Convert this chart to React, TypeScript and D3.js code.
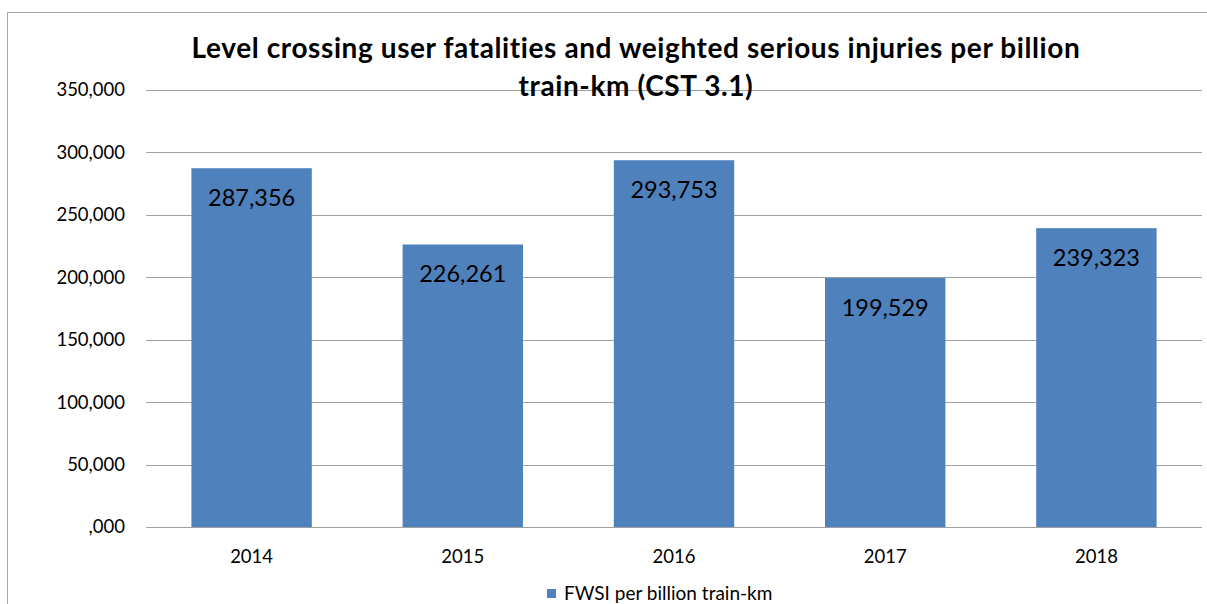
import React, { useEffect, useRef } from "react";
import * as d3 from "d3";

const years = ["2014", "2015", "2016", "2017", "2018"];
const fwsi = [287.356, 226.261, 293.753, 199.529, 239.323];
const yTicks = [0, 50, 100, 150, 200, 250, 300, 350];
const seriesName = "FWSI per billion train-km";
const titleLines = [
  "Level crossing user fatalities and weighted serious injuries per billion",
  "train-km (CST 3.1)",
];

const W = 1207;
const H = 604;
const FONT = "Lato, 'Open Sans', sans-serif";

// european style: 287,356 and ,000 for zero
const fmt = (v: number) => {
  const s = d3.format(".3f")(v).replace(".", ",");
  return s.startsWith("0,") ? s.slice(1) : s;
};

const App = () => {
  const svgRef = useRef<SVGSVGElement | null>(null);

  useEffect(() => {
    const svg = d3.select(svgRef.current);
    svg.selectAll("*").remove();

    const left = 146;
    const right = 1202;
    const top = 90;
    const bottom = 527;

    const x = d3.scaleBand().domain(years).range([left, right]).paddingInner(0.43).paddingOuter(0.215);
    const y = d3.scaleLinear().domain([0, 350]).range([bottom, top]);

    // chart frame
    svg.append("path")
      .attr("d", `M7.5,${H} V12.5 H${W}`)
      .attr("fill", "none")
      .attr("stroke", "#a6a6a6")
      .attr("stroke-width", 1);

    // gridlines
    svg.append("g")
      .selectAll("line")
      .data(yTicks)
      .enter()
      .append("line")
      .attr("x1", left)
      .attr("x2", right)
      .attr("y1", (d) => Math.round(y(d)) + 0.5)
      .attr("y2", (d) => Math.round(y(d)) + 0.5)
      .attr("stroke", "#a0a0a0")
      .attr("stroke-width", 1);

    // y labels
    svg.append("g")
      .selectAll("text")
      .data(yTicks)
      .enter()
      .append("text")
      .attr("x", 125)
      .attr("y", (d) => y(d))
      .attr("dy", "0.35em")
      .attr("text-anchor", "end")
      .attr("font-family", FONT)
      .attr("font-size", 18.5)
      .text((d) => fmt(d));

    // bars
    svg.append("g")
      .selectAll("rect")
      .data(fwsi)
      .enter()
      .append("rect")
      .attr("x", (d, i) => x(years[i])!)
      .attr("y", (d) => y(d))
      .attr("width", x.bandwidth())
      .attr("height", (d) => bottom - y(d))
      .attr("fill", "#4f81bd");

    // value labels
    svg.append("g")
      .selectAll("text")
      .data(fwsi)
      .enter()
      .append("text")
      .attr("x", (d, i) => x(years[i])! + x.bandwidth() / 2)
      .attr("y", (d) => y(d) + 38)
      .attr("text-anchor", "middle")
      .attr("font-family", FONT)
      .attr("font-size", 23.5)
      .text((d) => fmt(d));

    // x labels
    svg.append("g")
      .selectAll("text")
      .data(years)
      .enter()
      .append("text")
      .attr("x", (d) => x(d)! + x.bandwidth() / 2)
      .attr("y", 563)
      .attr("text-anchor", "middle")
      .attr("font-family", FONT)
      .attr("font-size", 18.5)
      .text((d) => d);

    // title
    svg.append("g")
      .selectAll("text")
      .data(titleLines)
      .enter()
      .append("text")
      .attr("x", 636)
      .attr("y", (d, i) => 58 + i * 38)
      .attr("text-anchor", "middle")
      .attr("font-family", FONT)
      .attr("font-weight", "bold")
      .attr("font-size", 28)
      .attr("letter-spacing", 0.6)
      .text((d) => d);

    // legend
    const lg = svg.append("g");
    lg.append("rect")
      .attr("x", 547)
      .attr("y", 589)
      .attr("width", 9)
      .attr("height", 9)
      .attr("fill", "#4f81bd");
    lg.append("text")
      .attr("x", 564)
      .attr("y", 600)
      .attr("font-family", FONT)
      .attr("font-size", 19)
      .text(seriesName);
  }, []);

  return (
    <svg
      ref={svgRef}
      width={W}
      height={H}
      style={{ position: "absolute", left: 0, top: 0, background: "#fff" }}
    />
  );
};

export default App;
